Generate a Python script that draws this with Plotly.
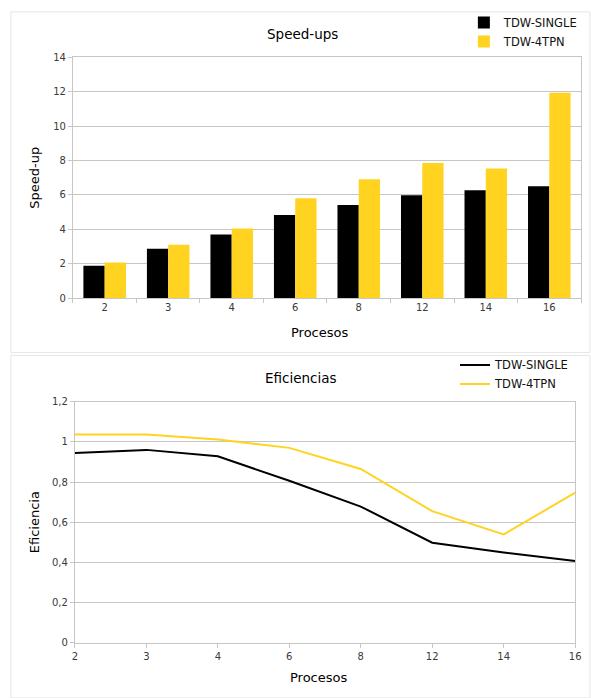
import plotly.graph_objects as go

# Number of processes (categories on both x axes)
procesos = ["2", "3", "4", "6", "8", "12", "14", "16"]

# Speed-up per configuration
speedup_single = [1.89, 2.88, 3.71, 4.84, 5.42, 5.98, 6.28, 6.50]
speedup_4tpn = [2.08, 3.11, 4.05, 5.81, 6.91, 7.85, 7.53, 11.94]

# Efficiency per configuration
eficiencia_single = [0.945, 0.960, 0.928, 0.806, 0.678, 0.498, 0.449, 0.407]
eficiencia_4tpn = [1.036, 1.036, 1.012, 0.970, 0.865, 0.655, 0.539, 0.747]

series_names = ["TDW-SINGLE", "TDW-4TPN"]
speed_ticks = [0, 2, 4, 6, 8, 10, 12, 14]
eff_ticks = [0, 0.2, 0.4, 0.6, 0.8, 1.0, 1.2]

W, H = 591, 698
BLACK = "#000000"
YELLOW = "#ffd320"
GRID = "#c6c6c6"
FONT = "DejaVu Sans"


def px_x(v):
    return v / W


def px_y(v):
    return 1 - v / H


fig = go.Figure()

# Top chart: grouped bars
fig.add_trace(go.Bar(x=procesos, y=speedup_single, name=series_names[0],
                     marker=dict(color=BLACK, line=dict(width=0)),
                     xaxis="x", yaxis="y", legend="legend"))
fig.add_trace(go.Bar(x=procesos, y=speedup_4tpn, name=series_names[1],
                     marker=dict(color=YELLOW, line=dict(width=0)),
                     xaxis="x", yaxis="y", legend="legend"))

# Bottom chart: lines
fig.add_trace(go.Scatter(x=procesos, y=eficiencia_single, name=series_names[0],
                         mode="lines", line=dict(color=BLACK, width=2),
                         xaxis="x2", yaxis="y2", legend="legend2"))
fig.add_trace(go.Scatter(x=procesos, y=eficiencia_4tpn, name=series_names[1],
                         mode="lines", line=dict(color=YELLOW, width=2),
                         xaxis="x2", yaxis="y2", legend="legend2"))

tickfont = dict(family=FONT, size=10, color="#3a3a3a")
common_axis = dict(showline=True, linecolor=GRID, linewidth=1, mirror=True,
                   ticks="outside", ticklen=4, tickcolor=GRID, tickwidth=1,
                   tickfont=tickfont, zeroline=False, fixedrange=True)

fig.update_layout(
    width=W, height=H,
    margin=dict(l=0, r=0, t=0, b=0),
    paper_bgcolor="white", plot_bgcolor="white",
    separators=",.",
    font=dict(family=FONT, color="#000000"),
    barmode="group", bargap=0.33, bargroupgap=0,
    xaxis=dict(domain=[px_x(71), px_x(587)], anchor="y", type="category",
               tickson="boundaries", showgrid=False, **common_axis),
    yaxis=dict(domain=[px_y(298), px_y(53)], anchor="x", range=[0, 14],
               tickvals=speed_ticks, showgrid=True, gridcolor=GRID, gridwidth=1,
               **common_axis),
    xaxis2=dict(domain=[px_x(73), px_x(581)], anchor="y2", type="category",
                range=[0, 7], showgrid=False, **common_axis),
    yaxis2=dict(domain=[px_y(648), px_y(403)], anchor="x2", range=[0, 1.2],
                tickvals=eff_ticks, showgrid=True, gridcolor=GRID, gridwidth=1,
                **common_axis),
    legend=dict(x=px_x(468), y=px_y(3), xanchor="left", yanchor="top",
                font=dict(family=FONT, size=11.5, color="#111111"),
                bgcolor="rgba(0,0,0,0)", itemwidth=30, tracegroupgap=0),
    legend2=dict(x=px_x(459), y=px_y(351), xanchor="left", yanchor="top",
                 font=dict(family=FONT, size=11.5, color="#111111"),
                 bgcolor="rgba(0,0,0,0)", itemwidth=30, tracegroupgap=0),
    showlegend=True,
)

# Titles and axis titles
annotations = [
    dict(text="Speed-ups", x=px_x(304), y=px_y(29), size=13.5),
    dict(text="Procesos", x=px_x(321), y=px_y(333), size=13),
    dict(text="Eficiencias", x=px_x(303), y=px_y(379), size=13.5),
    dict(text="Procesos", x=px_x(320), y=px_y(683), size=13),
]
for a in annotations:
    fig.add_annotation(text=a["text"], x=a["x"], y=a["y"], xref="paper", yref="paper",
                       xanchor="center", yanchor="middle", showarrow=False,
                       font=dict(family=FONT, size=a["size"], color="#000000"))

for text, yc in [("Speed-up", 176), ("Eficiencia", 526)]:
    fig.add_annotation(text=text, x=px_x(32), y=px_y(yc), xref="paper", yref="paper",
                       xanchor="center", yanchor="middle", showarrow=False, textangle=-90,
                       font=dict(family=FONT, size=13, color="#000000"))

# Faint panel frames around each chart
PANEL = "#e6e6e6"
fig.add_shape(type="rect", xref="paper", yref="paper",
              x0=px_x(8), x1=px_x(596), y0=px_y(353), y1=px_y(7),
              line=dict(color=PANEL, width=1), layer="below")
fig.add_shape(type="rect", xref="paper", yref="paper",
              x0=px_x(8), x1=px_x(596), y0=px_y(704), y1=px_y(356),
              line=dict(color=PANEL, width=1), layer="below")

# Page body without default margin so the figure fills the window exactly
fig.write_html("out.html", post_script="document.body.style.margin='0';")
